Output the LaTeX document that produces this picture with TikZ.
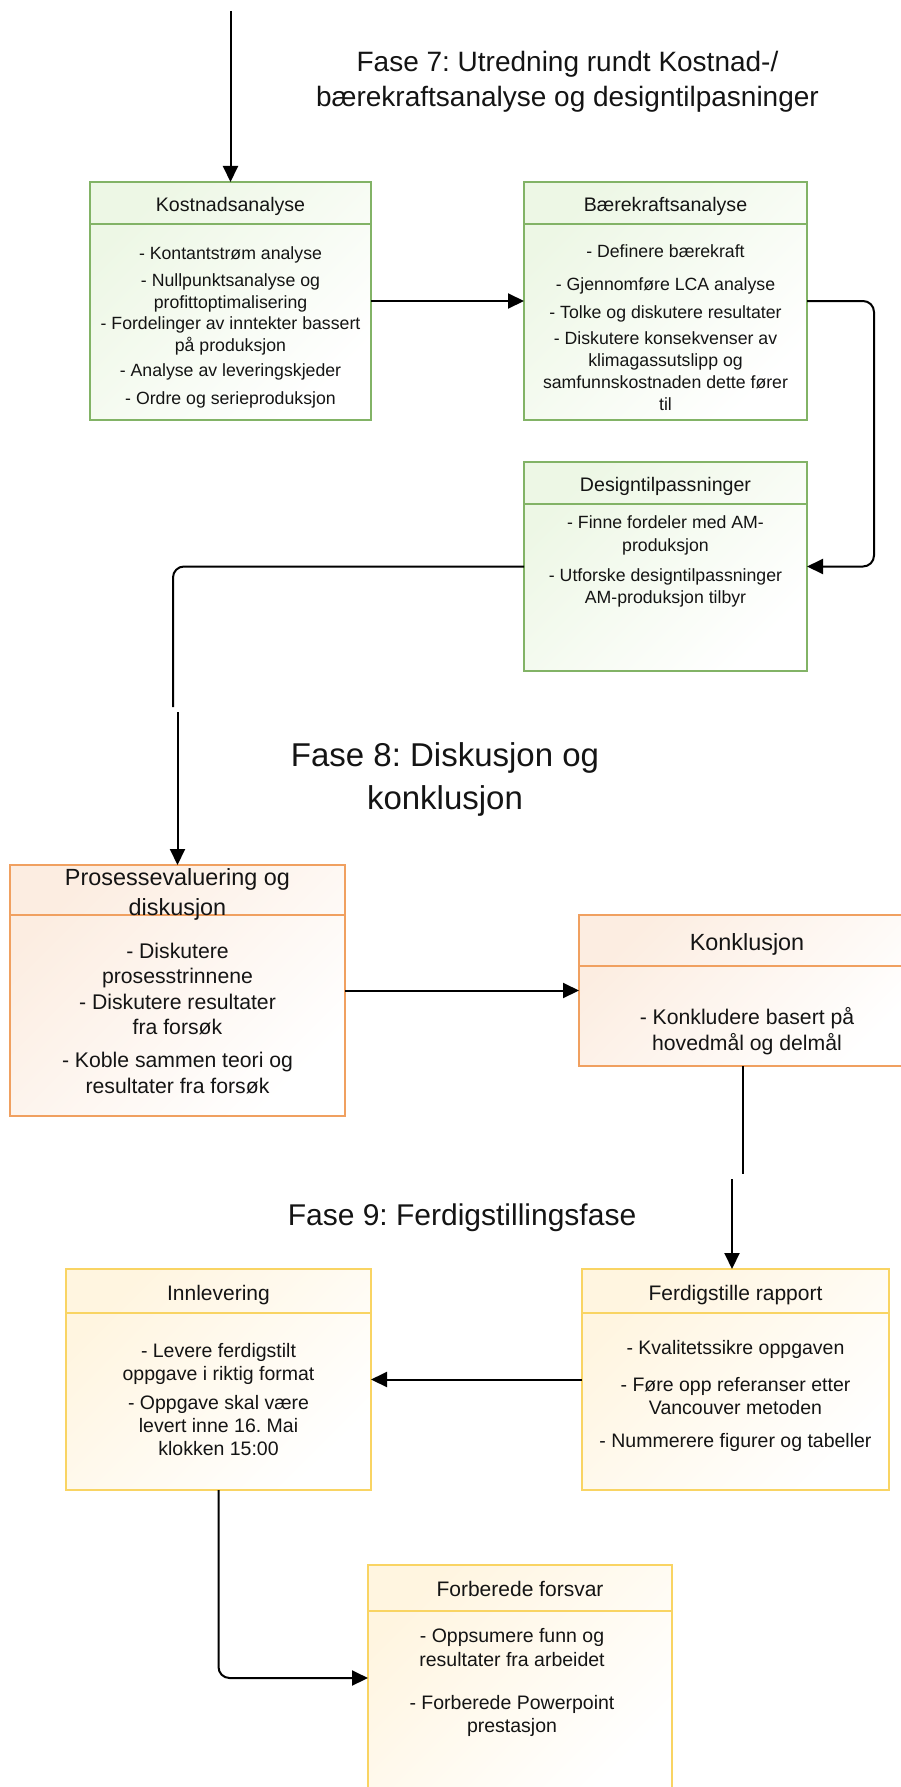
\documentclass[tikz,border=0pt]{standalone}
\usepackage{fontspec}
\setmainfont{Liberation Sans}
\usetikzlibrary{arrows.meta}
\frenchspacing

\definecolor{gline}{HTML}{82B366}
\definecolor{gfill}{HTML}{EDF7E5}
\definecolor{oline}{HTML}{F0A060}
\definecolor{ofill}{HTML}{FCEDE1}
\definecolor{yline}{HTML}{F9D463}
\definecolor{yfill}{HTML}{FFF5E0}
\definecolor{ink}{HTML}{141414}

\tikzset{
  panel/.style={draw, line width=2pt, outer sep=0pt, inner sep=0pt, anchor=north west},
  gpanel/.style={panel, draw=gline, top color=gfill, bottom color=white, shading angle=45},
  opanel/.style={panel, draw=oline, top color=ofill, bottom color=white, shading angle=45},
  ypanel/.style={panel, draw=yline, top color=yfill, bottom color=white, shading angle=45},
  label/.style={text=ink, align=center, anchor=base, inner sep=0pt},
  conn/.style={draw=black, line width=2pt, -{Triangle[length=16pt,width=15pt]}},
  plain/.style={draw=black, line width=2pt},
}

\begin{document}
\begin{tikzpicture}[x=1pt,y=-1pt]
\useasboundingbox (0,0) rectangle (900,1787);

% Text nodes are placed by the baseline of their last line.

% ---------- Fase 7 ----------
\node[label, font=\fontsize{28pt}{35pt}\selectfont] (t7) at (567.5,107)
  {Fase 7: Utredning rundt Kostnad-/\\bærekraftsanalyse og designtilpasninger};

\node[gpanel, minimum width=281pt, minimum height=238pt] (kost) at (90,182) {};
\draw[gline, line width=2pt] ([yshift=-42pt]kost.north west) -- ([yshift=-42pt]kost.north east);
\node[label, font=\fontsize{19.6pt}{23pt}\selectfont] (kosth) at (230.5,211.5) {Kostnadsanalyse};
\node[label, font=\fontsize{17.7pt}{21.5pt}\selectfont] (kostb) at (230.5,404)
  {- Kontantstrøm analyse\\[5.5pt]
   - Nullpunktsanalyse og\\
   profittoptimalisering\\
   - Fordelinger av inntekter bassert\\
   på produksjon\\[3.5pt]
   - Analyse av leveringskjeder\\[6.5pt]
   - Ordre og serieproduksjon};

\node[gpanel, minimum width=283pt, minimum height=238pt] (baer) at (524,182) {};
\draw[gline, line width=2pt] ([yshift=-42pt]baer.north west) -- ([yshift=-42pt]baer.north east);
\node[label, font=\fontsize{19.6pt}{23pt}\selectfont] (baerh) at (665.5,211.5) {Bærekraftsanalyse};
\node[label, font=\fontsize{17.7pt}{22pt}\selectfont] (baerb) at (665.5,410)
  {- Definere bærekraft\\[11pt]
   - Gjennomføre LCA analyse\\[6pt]
   - Tolke og diskutere resultater\\[4pt]
   - Diskutere konsekvenser av\\
   klimagassutslipp og\\
   samfunnskostnaden dette fører\\
   til};

\node[gpanel, minimum width=283pt, minimum height=209pt] (dsgn) at (524,462) {};
\draw[gline, line width=2pt] ([yshift=-42pt]dsgn.north west) -- ([yshift=-42pt]dsgn.north east);
\node[label, font=\fontsize{19.6pt}{23pt}\selectfont] (dsgnh) at (665.5,491.5) {Designtilpassninger};
\node[label, font=\fontsize{17.7pt}{22pt}\selectfont] (dsgnb) at (665.5,603)
  {- Finne fordeler med AM-\\[1pt]
   produksjon\\[8pt]
   - Utforske designtilpassninger\\
   AM-produksjon tilbyr};

% ---------- Fase 8 ----------
\node[label, font=\fontsize{33pt}{43pt}\selectfont] (t8) at (445,809)
  {Fase 8: Diskusjon og\\konklusjon};

\node[opanel, minimum width=335pt, minimum height=251pt] (pros) at (10,865) {};
\draw[oline, line width=2pt] ([yshift=-50pt]pros.north west) -- ([yshift=-50pt]pros.north east);
\node[label, font=\fontsize{23.4pt}{30pt}\selectfont] (prosh) at (177.5,915) {Prosessevaluering og\\diskusjon};
\node[label, font=\fontsize{21.2pt}{25.5pt}\selectfont] (prosb) at (177.5,1093)
  {- Diskutere\\
   prosesstrinnene\\
   - Diskutere resultater\\
   fra forsøk\\[7.5pt]
   - Koble sammen teori og\\
   resultater fra forsøk};

\node[opanel, minimum width=336pt, minimum height=151pt] (konk) at (579,915) {};
\draw[oline, line width=2pt] ([yshift=-51pt]konk.north west) -- ([yshift=-51pt]konk.north east);
\node[label, font=\fontsize{23.4pt}{28pt}\selectfont] (konkh) at (747,950) {Konklusjon};
\node[label, font=\fontsize{21.2pt}{26pt}\selectfont] (konkb) at (747,1050)
  {- Konkludere basert på\\
   hovedmål og delmål};

% ---------- Fase 9 ----------
\node[label, font=\fontsize{30pt}{36pt}\selectfont] (t9) at (462,1225) {Fase 9: Ferdigstillingsfase};

\node[ypanel, minimum width=305pt, minimum height=221pt] (innl) at (66,1269) {};
\draw[yline, line width=2pt] ([yshift=-44pt]innl.north west) -- ([yshift=-44pt]innl.north east);
\node[label, font=\fontsize{21pt}{25pt}\selectfont] (innlh) at (218.5,1300) {Innlevering};
\node[label, font=\fontsize{19.5pt}{23pt}\selectfont] (innlb) at (218.5,1455.5)
  {- Levere ferdigstilt\\
   oppgave i riktig format\\[6pt]
   - Oppgave skal være\\
   levert inne 16. Mai\\
   klokken 15:00};

\node[ypanel, minimum width=307pt, minimum height=221pt] (ferd) at (582,1269) {};
\draw[yline, line width=2pt] ([yshift=-44pt]ferd.north west) -- ([yshift=-44pt]ferd.north east);
\node[label, font=\fontsize{21pt}{25pt}\selectfont] (ferdh) at (735.5,1300) {Ferdigstille rapport};
\node[label, font=\fontsize{19.5pt}{23pt}\selectfont] (ferdb) at (735.5,1447.5)
  {- Kvalitetssikre oppgaven\\[14pt]
   - Føre opp referanser etter\\
   Vancouver metoden\\[10pt]
   - Nummerere figurer og tabeller};

\node[ypanel, minimum width=304pt, minimum height=226pt] (forb) at (368,1565) {};
\draw[yline, line width=2pt] ([yshift=-46pt]forb.north west) -- ([yshift=-46pt]forb.north east);
\node[label, font=\fontsize{21pt}{25pt}\selectfont] (forbh) at (520,1596) {Forberede forsvar};
\node[label, font=\fontsize{19.5pt}{23.5pt}\selectfont] (forbb) at (512,1732.5)
  {- Oppsumere funn og\\
   resultater fra arbeidet\\[19.5pt]
   - Forberede Powerpoint\\
   prestasjon};

% ---------- connectors ----------
\coordinate (entry) at (230.5,11);
\coordinate (cutA) at (173,707);
\coordinate (cutB) at (177.5,712);
\coordinate (cutC) at (743,1174);
\coordinate (cutD) at (732,1179);

\draw[conn] (entry) -- (kost.north);
\draw[conn] (kost.east) -- (baer.west);
\draw[conn, rounded corners=11pt] (baer.east) -- (874,301) |- (dsgn.east);
\draw[plain, rounded corners=11pt] (dsgn.west) -| (cutA);
\draw[conn] (cutB) -- (pros.north);
\draw[conn] (pros.east) -- (konk.west);
\draw[plain] (cutC |- konk.south) -- (cutC);
\draw[conn] (cutD) -- (cutD |- ferd.north);
\draw[conn] (ferd.west) -- (innl.east);
\draw[conn, rounded corners=11pt] (innl.south) |- (forb.west);
\end{tikzpicture}
\end{document}
